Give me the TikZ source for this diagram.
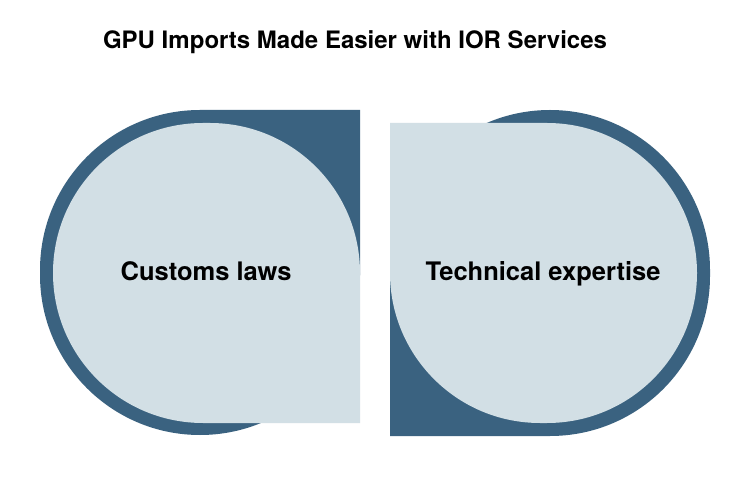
\documentclass[tikz,border=0pt]{standalone}
\usepackage{fontspec}
\setmainfont{TeX Gyre Heros}
\usepackage{tikz}
\usetikzlibrary{positioning}
\definecolor{PetrolBlue}{HTML}{3A6280}
\definecolor{MistBlue}{HTML}{D2DFE5}

\begin{document}
\begin{tikzpicture}[
    x=1pt, y=1pt,
    dark/.style={fill=PetrolBlue},
    light/.style={fill=MistBlue},
    ttl/.style={anchor=base, font=\fontsize{24}{28}\selectfont\bfseries},
    lab/.style={anchor=base, font=\fontsize{25.5}{30}\selectfont\bfseries},
  ]
    \useasboundingbox[fill=white] (0,0) rectangle (733,498);
    % =================== title ===================
    \node[ttl] (title) at (355,449) {GPU Imports Made Easier with IOR Services};

    % =================== left drop ===================
    \fill[dark] (360,388) -- (200,388) arc[start angle=90, end angle=180, radius=160]
      -- (40,223) arc[start angle=180, end angle=360, radius=160] -- cycle;
    \fill[light] (360,75) -- (360,225) arc[start angle=0, end angle=90, radius=150]
      -- (203,375) arc[start angle=90, end angle=270, radius=150] -- cycle;
    \node[lab] (customs) at (206,217) {Customs laws};

    % =================== right drop ===================
    \fill[dark] (390,62) -- (550,62) arc[start angle=270, end angle=360, radius=160]
      -- (710,228) arc[start angle=0, end angle=180, radius=160] -- cycle;
    \fill[light] (390,375) -- (547,375) arc[start angle=90, end angle=-90, radius=150]
      -- (540,75) arc[start angle=270, end angle=180, radius=150] -- cycle;
    \node[lab] (tech) at (543,217) {Technical expertise};
\end{tikzpicture}
\end{document}
